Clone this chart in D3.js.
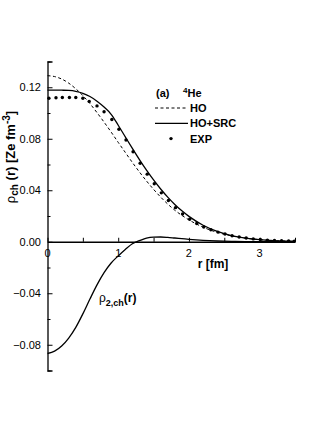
<!DOCTYPE html>
<html>
<head>
<meta charset="utf-8">
<script src="https://cdn.jsdelivr.net/npm/d3@7"></script>
<style>
  body { margin: 0; background: #fff; }
  svg text { font-family: Arial, "Liberation Sans", Helvetica, sans-serif; fill: #000; }
  .tick-label { font-size: 11px; }
  .bold { font-weight: bold; }
</style>
</head>
<body>
<div id="chart"></div>
<script>
// r grid (fm) for the calculated curves
var rGrid = [0, 0.1, 0.2, 0.3, 0.4, 0.5, 0.6, 0.7, 0.8, 0.9, 1.0, 1.1, 1.2, 1.3, 1.4, 1.5, 1.6, 1.7, 1.8, 1.9, 2.0, 2.2, 2.4, 2.6, 2.8, 3.0, 3.2, 3.5];

// HO charge density (dashed)
var hoValues = [0.1290, 0.1283, 0.1264, 0.1232, 0.1188, 0.1135, 0.1073, 0.1003, 0.0929, 0.0852, 0.0772, 0.0694, 0.0616, 0.0542, 0.0472, 0.0407, 0.0347, 0.0293, 0.0245, 0.0205, 0.0170, 0.0113, 0.0073, 0.0046, 0.0028, 0.0016, 0.0009, 0.0003];

// HO+SRC charge density (solid)
var srcValues = [0.1178, 0.1178, 0.1177, 0.1175, 0.1168, 0.1153, 0.1128, 0.1092, 0.1046, 0.0990, 0.0905, 0.0815, 0.0725, 0.0638, 0.0556, 0.0480, 0.0410, 0.0347, 0.0290, 0.0240, 0.0197, 0.0128, 0.0080, 0.0048, 0.0028, 0.0016, 0.0009, 0.0004];

// two-body part rho_2,ch(r)
var rho2Values = [-0.0868, -0.0850, -0.0810, -0.0748, -0.0665, -0.0560, -0.0445, -0.0335, -0.0240, -0.0165, -0.0110, -0.0060, -0.0015, 0.0008, 0.0028, 0.0036, 0.0037, 0.0034, 0.0029, 0.0024, 0.0019, 0.0011, 0.0006, 0.0003, 0.0001, 0.0000, 0.0000, 0.0000];

// experimental points
var expR = [0.02, 0.12, 0.21, 0.31, 0.40, 0.50, 0.59, 0.70, 0.80, 0.91, 1.01, 1.11, 1.21, 1.31, 1.41, 1.51, 1.61, 1.71, 1.81, 1.91, 2.01, 2.11, 2.21, 2.31, 2.41, 2.51, 2.61, 2.71, 2.81, 2.91, 3.01, 3.11, 3.21, 3.31, 3.41, 3.49];
var expValues = [0.1114, 0.1119, 0.1120, 0.1120, 0.1120, 0.1114, 0.1090, 0.1055, 0.1010, 0.0950, 0.0874, 0.0790, 0.0699, 0.0610, 0.0525, 0.0450, 0.0380, 0.0320, 0.0265, 0.0215, 0.0175, 0.0142, 0.0115, 0.0093, 0.0075, 0.0060, 0.0047, 0.0037, 0.0029, 0.0022, 0.0017, 0.0013, 0.0010, 0.0008, 0.0006, 0.0005];

var yMajorTicks = [-0.08, -0.04, 0.00, 0.04, 0.08, 0.12];
var yMinorTicks = [-0.10, -0.06, -0.02, 0.02, 0.06, 0.10, 0.14];
var xMajorTicks = [0, 1, 2, 3];
var xMinorTicks = [0.5, 1.5, 2.5, 3.5];

var legendItems = ["HO", "HO+SRC", "EXP"];

var W = 327, H = 436;
var svg = d3.select("#chart").append("svg")
    .attr("width", W)
    .attr("height", H);

var x = d3.scaleLinear().domain([0, 3.5]).range([47.5, 295]);
var y = d3.scaleLinear().domain([-0.10, 0.14]).range([370.5, 61.5]);

// left axis, ticks pointing inward
var yAxis = d3.axisRight(y)
    .tickValues(yMajorTicks)
    .tickSize(5)
    .tickFormat("");
var gy = svg.append("g")
    .attr("transform", "translate(" + x(0) + ",0)")
    .call(yAxis);
gy.select(".domain").attr("stroke-width", 1.3);

svg.append("g")
    .attr("transform", "translate(" + x(0) + ",0)")
    .call(d3.axisRight(y).tickValues(yMinorTicks).tickSize(3).tickFormat(""))
    .select(".domain").remove();

svg.append("g").selectAll("text")
    .data(yMajorTicks)
    .enter().append("text")
    .attr("class", "tick-label")
    .attr("x", 41)
    .attr("y", function(d) { return y(d) + 4; })
    .attr("text-anchor", "end")
    .text(function(d) { return d3.format(".2f")(d); });

// horizontal axis at zero
var gx = svg.append("g")
    .attr("transform", "translate(0," + y(0) + ")")
    .call(d3.axisTop(x).tickValues(xMajorTicks.concat(xMinorTicks)).tickSize(4).tickSizeOuter(0).tickFormat(""));
gx.select(".domain").attr("stroke-width", 1.3);

svg.append("g").selectAll("text")
    .data(xMajorTicks)
    .enter().append("text")
    .attr("class", "tick-label")
    .attr("x", function(d) { return x(d); })
    .attr("y", y(0) + 15)
    .attr("text-anchor", "middle")
    .text(function(d) { return d; });

// curves
var line = function(vals) {
    return d3.line()
        .x(function(d, i) { return x(rGrid[i]); })
        .y(function(d) { return y(d); })
        .curve(d3.curveMonotoneX)(vals);
};

svg.append("path")
    .attr("d", line(hoValues))
    .attr("fill", "none")
    .attr("stroke", "#000")
    .attr("stroke-width", 1)
    .attr("stroke-dasharray", "3,2.5");

svg.append("path")
    .attr("d", line(srcValues))
    .attr("fill", "none")
    .attr("stroke", "#000")
    .attr("stroke-width", 1.3);

svg.append("path")
    .attr("d", line(rho2Values))
    .attr("fill", "none")
    .attr("stroke", "#000")
    .attr("stroke-width", 1.3);

svg.append("g").selectAll("circle")
    .data(expValues)
    .enter().append("circle")
    .attr("cx", function(d, i) { return x(expR[i]); })
    .attr("cy", function(d) { return y(d); })
    .attr("r", 1.7)
    .attr("fill", "#000");

// axis titles
var ylab = svg.append("text")
    .attr("transform", "translate(15,157) rotate(-90)")
    .attr("text-anchor", "middle")
    .style("font-size", "13px");
ylab.append("tspan").text("\u03c1");
ylab.append("tspan").attr("class", "bold").attr("dy", 3).style("font-size", "10px").text("ch");
ylab.append("tspan").attr("class", "bold").attr("dy", -3).text(" (r) [Ze fm");
ylab.append("tspan").attr("class", "bold").attr("dy", -5).style("font-size", "10px").text("-3");
ylab.append("tspan").attr("class", "bold").attr("dy", 5).text("]");

svg.append("text")
    .attr("class", "bold")
    .attr("x", 213)
    .attr("y", 268)
    .attr("text-anchor", "middle")
    .style("font-size", "12px")
    .text("r [fm]");

// rho_2,ch label
var r2 = svg.append("text")
    .attr("x", 99)
    .attr("y", 302)
    .style("font-size", "12px");
r2.append("tspan").text("\u03c1");
r2.append("tspan").attr("class", "bold").attr("dy", 4).style("font-size", "9px").text("2,ch");
r2.append("tspan").attr("class", "bold").attr("dy", -4).text("(r)");

// legend
var lg = svg.append("g").attr("class", "legend");
var head = lg.append("text")
    .attr("class", "bold")
    .attr("x", 156)
    .attr("y", 97)
    .style("font-size", "11px");
head.append("tspan").text("(a)");
head.append("tspan").attr("x", 183).attr("dy", -4).style("font-size", "8px").text("4");
head.append("tspan").attr("dy", 4).text("He");

var rows = lg.selectAll("g.row")
    .data(legendItems)
    .enter().append("g")
    .attr("class", "row")
    .attr("transform", function(d, i) { return "translate(0," + (108 + i * 15.3) + ")"; });

rows.append("text")
    .attr("class", "bold")
    .attr("x", 190)
    .attr("y", 4)
    .style("font-size", "11px")
    .text(function(d) { return d; });

rows.filter(function(d, i) { return i < 2; })
    .append("line")
    .attr("x1", 155).attr("x2", 188)
    .attr("y1", 0).attr("y2", 0)
    .attr("stroke", "#000")
    .attr("stroke-width", function(d, i) { return i === 0 ? 1 : 1.3; })
    .attr("stroke-dasharray", function(d, i) { return i === 0 ? "3,2.5" : null; });

rows.filter(function(d, i) { return i === 2; })
    .append("circle")
    .attr("cx", 171).attr("cy", 0)
    .attr("r", 1.7)
    .attr("fill", "#000");
</script>
</body>
</html>
